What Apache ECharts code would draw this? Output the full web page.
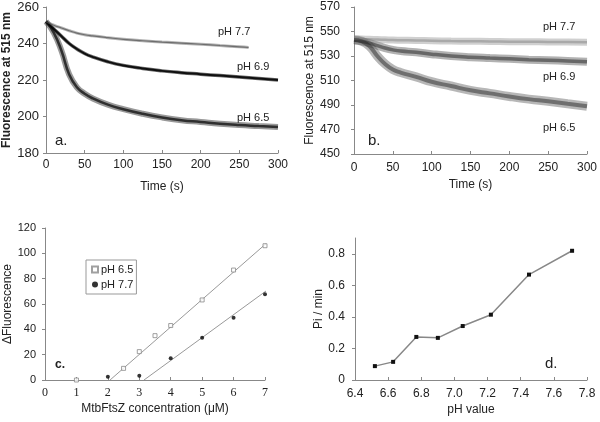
<!DOCTYPE html>
<html>
<head>
<meta charset="utf-8">
<script src="https://cdn.jsdelivr.net/npm/echarts@6/dist/echarts.min.js"></script>
<style>
html,body{margin:0;padding:0;background:#fff;}
#chart{width:600px;height:422px;}
</style>
</head>
<body>
<div id="chart"></div>
<script>
// Panel a: fluorescence vs time (s)
const timeA = [0, 10, 20, 30, 40, 50, 60, 80, 100, 125, 150, 175, 200, 225, 250, 275, 300];
const aPH65 = [252, 246, 236, 223, 216, 212.5, 210, 206.5, 204, 201.5, 199.5, 198, 197, 196, 195.3, 194.8, 194.3];
const aPH69 = [252, 248, 244, 240, 237, 234.5, 232.7, 230, 228, 226.3, 225, 224, 223.2, 222.4, 221.6, 220.8, 220];
const timeA77 = [0, 10, 20, 30, 40, 50, 60, 80, 100, 125, 150, 175, 200, 225, 250, 262];
const aPH77 = [252, 250, 248.5, 247, 245.7, 244.8, 244.2, 243.2, 242.3, 241.5, 240.8, 240.2, 239.6, 238.9, 238.2, 237.8];

// Panel b
const timeB = [0, 10, 20, 30, 40, 50, 60, 80, 100, 125, 150, 175, 200, 225, 250, 275, 300];
const bPH65 = [543, 542, 538, 530, 523.5, 519, 516.5, 513, 509, 505.5, 502, 499.5, 497, 494.8, 493, 491, 489];
const bPH69 = [543, 542, 540.5, 538.5, 536.5, 535, 534, 533, 531.5, 530, 529, 528.3, 527.7, 527, 526.5, 526, 525.3];
const bPH77 = [544, 543.8, 543.6, 543.4, 543.2, 543, 542.9, 542.7, 542.5, 542.2, 542, 541.9, 541.7, 541.6, 541.5, 541.4, 541.3];

// Panel c
const concC65 = [1, 2.5, 3, 3.5, 4, 5, 6, 7];
const valC65 = [0, 9.2, 22.4, 35, 43, 63.2, 86.8, 106];
const concC77 = [2, 3, 4, 5, 6, 7];
const valC77 = [2.6, 3.4, 17.1, 33.4, 49.2, 67.6];
const fitC65 = [[2.07, 0], [7.05, 108]];
const fitC77 = [[3.15, 0], [7.1, 71.5]];

// Panel d
const pHD = [6.52, 6.63, 6.77, 6.90, 7.05, 7.22, 7.45, 7.71];
const piD = [0.088, 0.115, 0.273, 0.267, 0.342, 0.414, 0.668, 0.819];

const FONT = '"Liberation Sans", Arial, sans-serif';
const zip = (xs, ys) => xs.map((x, i) => [x, ys[i]]);

function axisBase(extra) {
  const base = {
    axisLine: {show: true, lineStyle: {color: '#888', width: 1}},
    axisTick: {show: true, length: 3, lineStyle: {color: '#888'}},
    splitLine: {show: false},
    axisLabel: {color: '#222', fontFamily: FONT, fontSize: 12},
    nameTextStyle: {color: '#222', fontFamily: FONT, fontSize: 12},
    nameLocation: 'middle'
  };
  const out = Object.assign({}, base, extra);
  if (extra.axisLabel) out.axisLabel = Object.assign({}, base.axisLabel, extra.axisLabel);
  if (extra.nameTextStyle) out.nameTextStyle = Object.assign({}, base.nameTextStyle, extra.nameTextStyle);
  if (extra.axisTick) out.axisTick = Object.assign({}, base.axisTick, extra.axisTick);
  return out;
}

function band(xi, yi, data, outerW, outerC, innerW, innerC) {
  return [
    {type: 'line', xAxisIndex: xi, yAxisIndex: yi, data: data, smooth: true, symbol: 'none',
     lineStyle: {width: outerW, color: outerC}, silent: true, z: 2},
    {type: 'line', xAxisIndex: xi, yAxisIndex: yi, data: data, smooth: true, symbol: 'none',
     lineStyle: {width: innerW, color: innerC}, silent: true, z: 3}
  ];
}

const textStyle = (size, weight) => ({fill: '#222', font: (weight || 'normal') + ' ' + size + 'px ' + FONT});

const option = {
  animation: false,
  backgroundColor: '#fff',
  grid: [
    {left: 44, top: 7, width: 234, height: 146},
    {left: 354, top: 7, width: 234, height: 147},
    {left: 45, top: 228, width: 220, height: 152},
    {left: 355, top: 238, width: 232, height: 142}
  ],
  xAxis: [
    axisBase({gridIndex: 0, type: 'value', min: 0, max: 300, interval: 50, name: 'Time (s)', nameGap: 28,
      axisTick: {inside: true}, axisLabel: {margin: 6}}),
    axisBase({gridIndex: 1, type: 'value', min: 0, max: 300, interval: 50, name: 'Time (s)', nameGap: 25,
      axisTick: {inside: true}, axisLabel: {margin: 8}}),
    axisBase({gridIndex: 2, type: 'value', min: 0, max: 7, interval: 1, name: 'MtbFtsZ concentration (\u03bcM)', nameGap: 23,
      axisTick: {inside: true}, axisLabel: {margin: 7, fontFamily: '"Liberation Serif", "Times New Roman", serif', fontSize: 12}}),
    axisBase({gridIndex: 3, type: 'value', min: 6.4, max: 7.8, interval: 0.2, name: 'pH value', nameGap: 24,
      axisTick: {inside: true}, axisLabel: {margin: 8, formatter: v => v.toFixed(1)}})
  ],
  yAxis: [
    axisBase({gridIndex: 0, type: 'value', min: 180, max: 260, interval: 20, name: 'Fluorescence at 515 nm', nameGap: 33,
      axisLabel: {margin: 7, fontSize: 13}, nameTextStyle: {fontWeight: 'bold', fontSize: 12}}),
    axisBase({gridIndex: 1, type: 'value', min: 450, max: 570, interval: 20, name: 'Fluorescence at 515 nm', nameGap: 31,
      axisLabel: {margin: 14, fontSize: 12}}),
    axisBase({gridIndex: 2, type: 'value', min: 0, max: 120, interval: 20, name: '\u0394Fluorescence', nameGap: 25,
      axisLabel: {margin: 9, fontSize: 11}}),
    axisBase({gridIndex: 3, type: 'value', min: 0, max: 0.9, interval: 0.2, name: 'Pi / min', nameGap: 30,
      axisLabel: {margin: 10, showMaxLabel: false, formatter: v => (v === 0 ? '0' : v.toFixed(1))}})
  ],
  legend: {
    data: ['pH 6.5', 'pH 7.7'],
    orient: 'vertical',
    left: 86, top: 260,
    itemWidth: 6, itemHeight: 6, itemGap: 4,
    padding: [4, 3, 4, 5],
    borderColor: '#999', borderWidth: 1,
    textStyle: {fontFamily: FONT, fontSize: 11, color: '#222', padding: [0, 0, 0, -2]}
  },
  series: [].concat(
    band(0, 0, zip(timeA, aPH65), 6, 'rgba(70,70,70,0.55)', 2.5, 'rgba(20,20,20,0.8)'),
    band(0, 0, zip(timeA, aPH69), 3.5, 'rgba(40,40,40,0.7)', 2, 'rgba(0,0,0,0.85)'),
    band(0, 0, zip(timeA77, aPH77), 3, 'rgba(130,130,130,0.6)', 1.2, 'rgba(80,80,80,0.7)'),
    band(1, 1, zip(timeB, bPH65), 9, 'rgba(95,95,95,0.45)', 4, 'rgba(40,40,40,0.5)'),
    band(1, 1, zip(timeB, bPH69), 8, 'rgba(85,85,85,0.45)', 3.5, 'rgba(30,30,30,0.5)'),
    band(1, 1, zip(timeB, bPH77), 7, 'rgba(150,150,150,0.45)', 2.5, 'rgba(110,110,110,0.4)'),
    [
      {type: 'line', xAxisIndex: 2, yAxisIndex: 2, data: fitC65, symbol: 'none', lineStyle: {color: '#999', width: 1}, silent: true},
      {type: 'line', xAxisIndex: 2, yAxisIndex: 2, data: fitC77, symbol: 'none', lineStyle: {color: '#999', width: 1}, silent: true},
      {name: 'pH 6.5', type: 'scatter', xAxisIndex: 2, yAxisIndex: 2, data: zip(concC65, valC65), symbol: 'rect', symbolSize: 4,
       itemStyle: {color: '#fff', borderColor: '#888', borderWidth: 1}, z: 5},
      {name: 'pH 7.7', type: 'scatter', xAxisIndex: 2, yAxisIndex: 2, data: zip(concC77, valC77), symbol: 'circle', symbolSize: 4,
       itemStyle: {color: '#000'}, z: 5},
      {type: 'line', xAxisIndex: 3, yAxisIndex: 3, data: zip(pHD, piD), symbol: 'rect', symbolSize: 4,
       lineStyle: {color: '#888', width: 1.5}, itemStyle: {color: '#111'}, z: 5}
    ]
  ),
  graphic: [
    {type: 'text', left: 218, top: 26, style: Object.assign({text: 'pH 7.7'}, textStyle(11))},
    {type: 'text', left: 237, top: 61, style: Object.assign({text: 'pH 6.9'}, textStyle(11))},
    {type: 'text', left: 237, top: 112, style: Object.assign({text: 'pH 6.5'}, textStyle(11))},
    {type: 'text', left: 55, top: 133, style: Object.assign({text: 'a.'}, textStyle(15))},
    {type: 'text', left: 543, top: 21, style: Object.assign({text: 'pH 7.7'}, textStyle(11))},
    {type: 'text', left: 543, top: 71, style: Object.assign({text: 'pH 6.9'}, textStyle(11))},
    {type: 'text', left: 543, top: 122, style: Object.assign({text: 'pH 6.5'}, textStyle(11))},
    {type: 'text', left: 368, top: 133, style: Object.assign({text: 'b.'}, textStyle(15))},
    {type: 'text', left: 55, top: 359, style: Object.assign({text: 'c.'}, textStyle(12, 'bold'))},
    {type: 'text', left: 545, top: 356, style: Object.assign({text: 'd.'}, textStyle(15))}
  ]
};

const chart = echarts.init(document.getElementById('chart'), null, {renderer: 'canvas'});
chart.setOption(option);
</script>
</body>
</html>
